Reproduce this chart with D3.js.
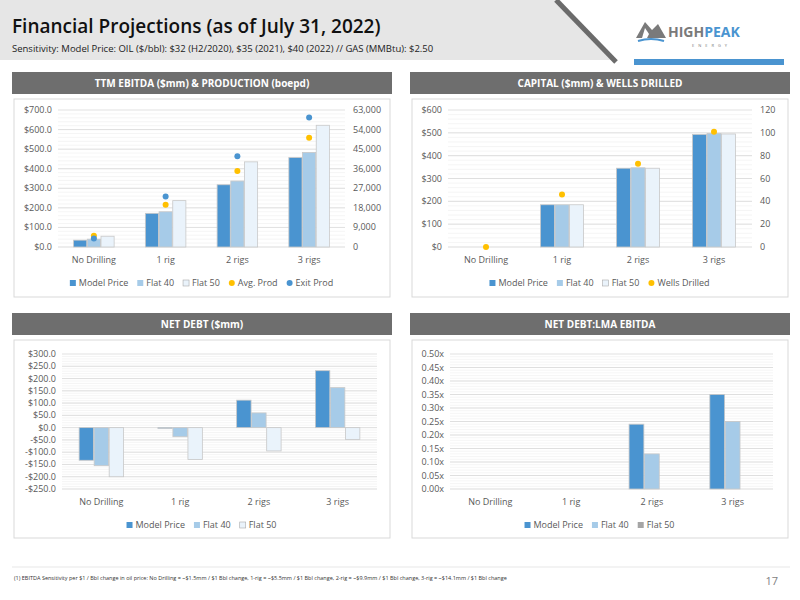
<!DOCTYPE html>
<html><head><meta charset="utf-8">
<script src="https://cdn.jsdelivr.net/npm/d3@7"></script>
<style>body{margin:0;background:#fff}svg{font-family:"Open Sans",sans-serif}</style>
</head><body><svg width="800" height="600"></svg>
<script>
const categories = ["No Drilling", "1 rig", "2 rigs", "3 rigs"];
const seriesNames = ["Model Price", "Flat 40", "Flat 50"];
const ebitda = [[35, 172, 318, 457], [40, 180, 337, 483], [55, 237, 435, 622]];
const avgProd = [5200, 19400, 35000, 50200];
const exitProd = [3900, 23200, 41700, 59500];
const capital = [[0, 185, 345, 493], [0, 185, 347, 497], [0, 185, 345, 495]];
const wells = [0, 46, 73, 101];
const netDebt = [[-133, -3, 112, 232], [-155, -37, 60, 163], [-200, -130, -95, -48]];
const ratio = [[0, 0, 0.24, 0.35], [0, 0, 0.13, 0.25], [0, 0, 0, 0]];

const barColors = ["#4a94d0", "#a6cbe8", "#eaf3fb"];
const svg = d3.select("svg");

// header
svg.append("path").attr("d", "M0,0H560L614,60H0Z").attr("fill", "#e6e6e6");
svg.append("line").attr("x1", 556).attr("y1", 0).attr("x2", 616).attr("y2", 62).attr("stroke", "#6b6b6b").attr("stroke-width", 5);
svg.append("rect").attr("x", 634).attr("y", 59).attr("width", 150).attr("height", 6).attr("fill", "#4a94d0");
svg.append("text").attr("x", 12).attr("y", 33).attr("font-size", 19).attr("font-weight", 600).attr("fill", "#111")
  .attr("font-family", "Liberation Sans Narrow, Open Sans").text("Financial Projections (as of July 31, 2022)");
svg.append("text").attr("x", 12).attr("y", 52).attr("font-size", 9.5).attr("fill", "#222")
  .text("Sensitivity: Model Price: OIL ($/bbl): $32 (H2/2020), $35 (2021), $40 (2022) // GAS (MMBtu): $2.50");
// logo
const logo = svg.append("g").attr("transform", "translate(636,20)");
logo.append("path").attr("d", "M0,18L9,2L16,10L22,4L30,18Z").attr("fill", "#7a7a7a");
logo.append("path").attr("d", "M9,8L13,14L11,18L6,18Z").attr("fill", "#fff");
logo.append("path").attr("d", "M2,21Q15,17 28,21").attr("stroke", "#4a94d0").attr("stroke-width", 2).attr("fill", "none");
logo.append("text").attr("x", 32).attr("y", 17).attr("font-size", 14).attr("font-weight", 700).attr("fill", "#7a7a7a")
  .html('HIGH<tspan fill="#4a94d0">PEAK</tspan>');
logo.append("text").attr("x", 56).attr("y", 27).attr("font-size", 4).attr("fill", "#7a7a7a").attr("letter-spacing", 4).text("ENERGY");

function panel(x, y, title, opt) {
  const w = 380;
  svg.append("rect").attr("x", x).attr("y", y).attr("width", w).attr("height", 22).attr("fill", "#6e6e6e");
  svg.append("text").attr("x", x + w / 2).attr("y", y + 15).attr("text-anchor", "middle").attr("font-size", 10)
    .attr("font-weight", 700).attr("fill", "#fff").text(title);
  svg.append("rect").attr("x", x + 2).attr("y", y + 27).attr("width", w - 4).attr("height", 198)
    .attr("fill", "#fff").attr("stroke", "#d9d9d9");
  const g = svg.append("g");
  const xl = x + opt.left, xr = x + opt.right;
  const yS = d3.scaleLinear().domain(opt.domain).range([opt.bottom + y, opt.top + y]);
  const x0 = d3.scaleBand().domain(categories).range([xl, xr]);
  const x1 = d3.scaleBand().domain([0, 1, 2]).range([0, x0.bandwidth() * 0.58]).padding(0.04);
  const off = x0.bandwidth() * 0.21;
  // minor + major grid
  const ticks = d3.range(opt.domain[0], opt.domain[1] + opt.step / 2, opt.step);
  const minor = d3.range(opt.domain[0], opt.domain[1], opt.step / 5);
  g.selectAll(".mn").data(minor).join("line").attr("x1", xl).attr("x2", xr)
    .attr("y1", d => yS(d)).attr("y2", d => yS(d)).attr("stroke", "#efefef").attr("stroke-width", 0.6);
  g.selectAll(".mj").data(ticks).join("line").attr("x1", xl).attr("x2", xr)
    .attr("y1", d => yS(d)).attr("y2", d => yS(d)).attr("stroke", "#d9d9d9").attr("stroke-width", 0.8);
  g.selectAll(".tl").data(ticks).join("text").attr("x", xl - 6).attr("y", d => yS(d) + 3)
    .attr("text-anchor", "end").attr("font-size", 9).attr("fill", "#595959").text(opt.fmt);
  // bars
  opt.data.forEach((s, si) => {
    g.selectAll(null).data(s).join("rect")
      .attr("x", (d, i) => x0(categories[i]) + off + x1(si)).attr("width", x1.bandwidth())
      .attr("y", d => yS(Math.max(0, d))).attr("height", d => Math.abs(yS(d) - yS(0)))
      .attr("fill", barColors[si]).attr("stroke", d => d === 0 ? "none" : "#c8c8c8").attr("stroke-width", 0.8);
  });
  g.selectAll(".cl").data(categories).join("text").attr("x", d => x0(d) + x0.bandwidth() / 2)
    .attr("y", opt.bottom + y + 16).attr("text-anchor", "middle").attr("font-size", 9).attr("fill", "#595959").text(d => d);
  // secondary axis & dots
  if (opt.y2) {
    const y2 = d3.scaleLinear().domain(opt.y2.domain).range(yS.range());
    g.selectAll(".t2").data(d3.range(0, opt.y2.domain[1] + 1, opt.y2.step)).join("text")
      .attr("x", xr + 8).attr("y", d => y2(d) + 3).attr("font-size", 9).attr("fill", "#595959").text(opt.y2.fmt);
    opt.y2.series.forEach(sr => {
      g.selectAll(null).data(sr.values).join("circle")
        .attr("cx", (d, i) => x0(categories[i]) + off + x1(1) + x1.bandwidth() / 2)
        .attr("cy", d => y2(d)).attr("r", 3).attr("fill", sr.color);
    });
  }
  // legend
  const lg = g.append("g");
  let lx = 0;
  opt.legend.forEach(l => {
    const it = lg.append("g").attr("transform", `translate(${lx},0)`);
    if (l.dot) it.append("circle").attr("cx", 3).attr("cy", -3).attr("r", 3).attr("fill", l.color);
    else it.append("rect").attr("x", 0).attr("y", -6).attr("width", 6).attr("height", 6).attr("fill", l.color)
      .attr("stroke", l.stroke || "none").attr("stroke-width", 0.6);
    const t = it.append("text").attr("x", 9).attr("y", 0).attr("font-size", 9).attr("fill", "#595959").text(l.name);
    lx += 9 + t.node().getComputedTextLength() + 9;
  });
  lg.attr("transform", `translate(${x + w / 2 - lx / 2 + 4},${opt.bottom + y + 39})`);
}

const barLegend = seriesNames.map((n, i) => ({ name: n, color: barColors[i], stroke: i === 2 ? "#aaa" : null }));
const money1 = d => (d < 0 ? "-$" : "$") + Math.abs(d).toFixed(1);

panel(12, 72, "TTM EBITDA ($mm) & PRODUCTION (boepd)", {
  left: 46, right: 333, top: 38, bottom: 175, domain: [0, 700], step: 100, fmt: money1, data: ebitda,
  y2: { domain: [0, 63000], step: 9000, fmt: d => d3.format(",")(d),
    series: [{ values: avgProd, color: "#ffc000" }, { values: exitProd, color: "#4a94d0" }] },
  legend: barLegend.concat([{ name: "Avg. Prod", color: "#ffc000", dot: true }, { name: "Exit Prod", color: "#4a94d0", dot: true }])
});
panel(410, 72, "CAPITAL ($mm) & WELLS DRILLED", {
  left: 38, right: 342, top: 38, bottom: 175, domain: [0, 600], step: 100, fmt: d => "$" + d, data: capital,
  y2: { domain: [0, 120], step: 20, fmt: d => d, series: [{ values: wells, color: "#ffc000" }] },
  legend: barLegend.concat([{ name: "Wells Drilled", color: "#ffc000", dot: true }])
});
panel(12, 313, "NET DEBT ($mm)", {
  left: 50, right: 365, top: 41, bottom: 176, domain: [-250, 300], step: 50, fmt: money1, data: netDebt,
  legend: barLegend
});
panel(410, 313, "NET DEBT:LMA EBITDA", {
  left: 40, right: 363, top: 41, bottom: 176, domain: [0, 0.5], step: 0.05, fmt: d => d.toFixed(2) + "x", data: ratio,
  legend: [{ name: "Model Price", color: barColors[0] }, { name: "Flat 40", color: barColors[1] }, { name: "Flat 50", color: "#a5a5a5" }]
});

svg.append("line").attr("x1", 12).attr("x2", 790).attr("y1", 567).attr("y2", 567).attr("stroke", "#ccc").attr("stroke-width", 0.5);
svg.append("text").attr("x", 14).attr("y", 580).attr("font-size", 5.5).attr("fill", "#333")
  .text("(1)      EBITDA Sensitivity per $1 / Bbl change in oil price: No Drilling = ~$1.5mm / $1 Bbl change, 1-rig = ~$5.5mm / $1 Bbl change, 2-rig = ~$9.9mm / $1 Bbl change, 3-rig = ~$14.1mm / $1 Bbl change");
svg.append("text").attr("x", 778).attr("y", 585).attr("text-anchor", "end").attr("font-size", 11).attr("fill", "#7f7f7f").text("17");
</script></body></html>
